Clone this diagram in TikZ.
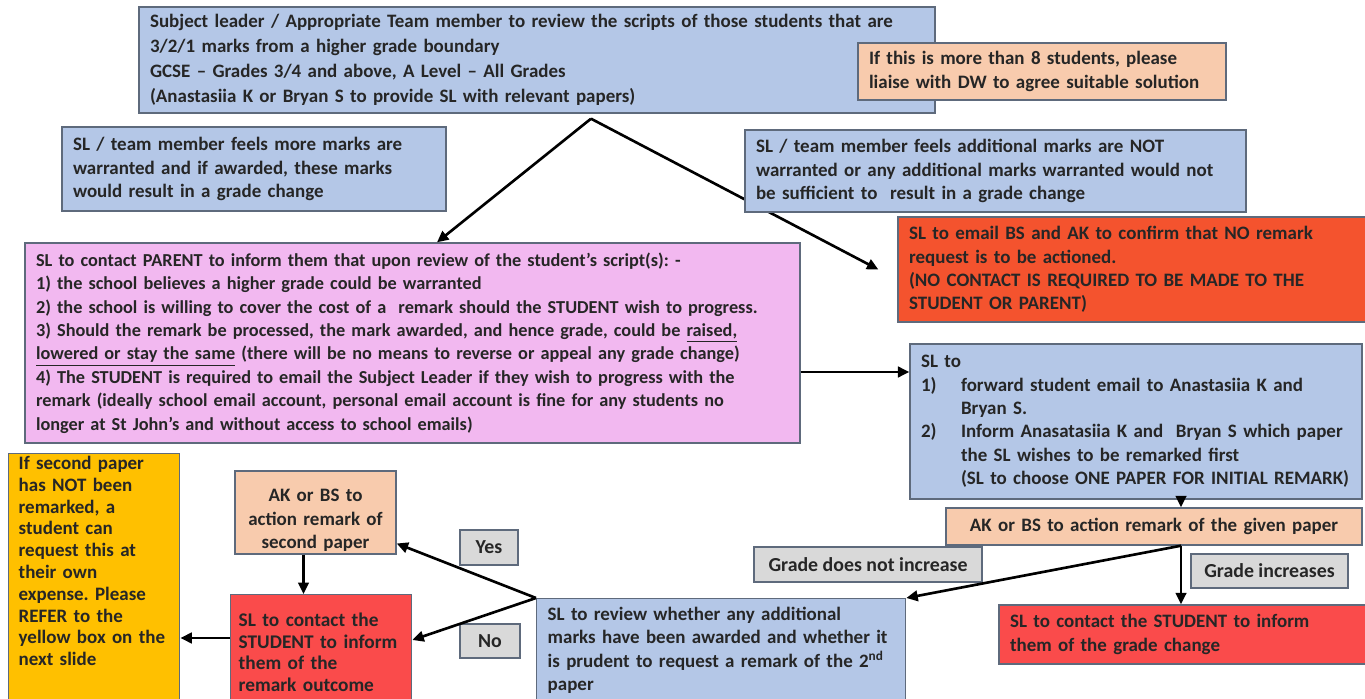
\documentclass[tikz,border=0pt]{standalone}
\usepackage{fontspec}
\setmainfont{Carlito}
\frenchspacing
\usetikzlibrary{arrows.meta}
\definecolor{boxblue}{HTML}{B4C7E7}
\definecolor{boxpeach}{HTML}{F8CBAD}
\definecolor{boxpink}{HTML}{F2B8F0}
\definecolor{boxorange}{HTML}{F4532E}
\definecolor{boxred}{HTML}{FA4B4B}
\definecolor{boxyellow}{HTML}{FFC000}
\definecolor{boxgrey}{HTML}{D9D9D9}
\definecolor{boxline}{HTML}{5E6A7C}
\definecolor{inktext}{HTML}{262626}
\begin{document}
\begin{tikzpicture}[x=0.02cm,y=-0.02cm,
                    every node/.style={font=\bfseries\fontsize{10.8}{13.3}\selectfont,text=inktext},
                    plain box/.style={draw=boxline,line width=0.8pt,inner xsep=0.22cm,inner ysep=0pt,align=left},
                    blue box/.style={plain box,fill=boxblue},
                    peach box/.style={plain box,fill=boxpeach},
                    pink box/.style={plain box,fill=boxpink},
                    orange box/.style={plain box,fill=boxorange},
                    red box/.style={plain box,fill=boxred},
                    yellow box/.style={plain box,fill=boxyellow},
                    tag/.style={plain box,fill=boxgrey,align=center,inner xsep=0pt,
                                font=\bfseries\fontsize{11.3}{13.3}\selectfont},
                    cut box/.style={anchor=north west,text depth=6cm},
                    flow/.style={line width=1.5pt,-{Triangle[length=6.5pt,width=6pt]}}
                   ]
  \path[use as bounding box,clip] (0,0) rectangle (1365,699);

  \node[blue box,text width=15.48cm,minimum height=2.12cm,
        font=\bfseries\fontsize{10.8}{14.2}\selectfont] (review) at (537,60)
    {Subject leader / Appropriate Team member to review the scripts of those students that are\\
     3/2/1 marks from a higher grade boundary\\
     GCSE -- Grades 3/4 and above, A Level -- All Grades\\
     (Anastasiia K or Bryan S to provide SL with relevant papers)};
  \node[peach box,text width=6.92cm,minimum height=1.14cm] (limit) at (1042,71.5)
    {If this is more than 8 students, please\\ liaise with DW to agree suitable solution};
  \node[blue box,text width=7.24cm,minimum height=1.68cm] (more) at (254,169)
    {SL / team member feels more marks are\\ warranted and if awarded, these marks\\ would result in a grade change};
  \node[pink box,text width=15.06cm,minimum height=4cm,
        font=\bfseries\fontsize{10.4}{13.3}\selectfont] (parent) at (412.5,343)
    {SL to contact PARENT to inform them that upon review of the student’s script(s): -\\
     1) the school believes a higher grade could be warranted\\
     2) the school is willing to cover the cost of a~ remark should the STUDENT wish to progress.\\
     3) Should the remark be processed, the mark awarded, and hence grade, could be \underline{raised,}\\
     \underline{lowered or stay the same} (there will be no means to reverse or appeal any grade change)\\
     4) The STUDENT is required to email the Subject Leader if they wish to progress with the\\
     remark (ideally school email account, personal email account is fine for any students no\\
     longer at St John’s and without access to school emails)};
  \node[orange box,text width=9.04cm,minimum height=2.1cm] (noremark) at (1135,269.5)
    {SL to email BS and AK to confirm that NO remark\\ request is to be actioned.\\
     (NO CONTACT IS REQUIRED TO BE MADE TO THE\\ STUDENT OR PARENT)};
  \node[blue box,text width=8.6cm,minimum height=3.1cm] (forward) at (1136,421.5)
    {SL to\\
     \makebox[0.8cm][l]{1)}forward student email to Anastasiia K and\\
     \hspace*{0.8cm}Bryan S.\\
     \makebox[0.8cm][l]{2)}Inform Anasatasiia K and~ Bryan S which paper\\
     \hspace*{0.8cm}the SL wishes to be remarked first\\
     \hspace*{0.8cm}(SL to choose ONE PAPER FOR INITIAL REMARK)};
  \node[peach box,align=center,text width=7.88cm,minimum height=0.74cm] (action) at (1154,526.5)
    {AK or BS to action remark of the given paper};
  \node[tag,minimum width=4.56cm,minimum height=0.7cm] (same) at (868,564.5) {Grade does not increase};
  \node[tag,minimum width=3.14cm,minimum height=0.68cm] (up) at (1269.5,571) {Grade increases};
  \node[red box,text width=7.02cm,minimum height=1.18cm] (tellgrade) at (1185.5,634.5)
    {SL to contact the STUDENT to inform\\ them of the grade change};
  \node[blue box,cut box,inner ysep=0.17cm,text width=6.94cm] (recheck) at (536,598)
    {SL to review whether any additional\\ marks have been awarded and whether it\\
     is prudent to request a remark of the 2\textsuperscript{nd}\\ paper};
  \node[tag,minimum width=1.16cm,minimum height=0.7cm] (yes) at (489,547.5) {Yes};
  \node[tag,minimum width=1.2cm,minimum height=0.68cm] (no) at (490,641) {No};
  \node[peach box,align=center,inner xsep=0.1cm,text width=3.02cm,text height=0.57cm,
        minimum height=1.66cm] (second) at (315.5,512.5)
    {AK or BS to\\ action remark of\\ second paper};
  \node[red box,cut box,inner ysep=0.36cm,inner xsep=0.16cm,text width=3.3cm,
        font=\bfseries\fontsize{11}{12.4}\selectfont] (tellout) at (230,594)
    {SL to contact the\\ STUDENT to inform\\ them of the\\ remark outcome};
  \node[yellow box,cut box,inner ysep=0.05cm,inner xsep=0.2cm,text width=3.02cm,
        font=\bfseries\fontsize{10.8}{12.4}\selectfont] (refer) at (8,453)
    {If second paper\\ has NOT been\\ remarked, a\\ student can\\ request this at\\ their own\\
     expense. Please\\ REFER to the\\ yellow box on the\\ next slide};

  \coordinate (fork) at ([xshift=1.08cm,yshift=-0.1cm]review.south);
  \coordinate (split) at ([xshift=0.54cm]action.south);
  \path%
    (fork) edge[flow] ([xshift=0.49cm]parent.north)
    (fork) edge[flow] ([xshift=-0.38cm]noremark.west)
    ([yshift=-0.58cm]parent.east) edge[flow] ([yshift=-0.58cm]parent.east -| forward.west)
    (forward.south -| split) edge[flow] (action.north -| split)
    (split) edge[flow] (tellgrade.north -| split)
    (split) edge[flow] (recheck.north east)
    (recheck.north west) edge[flow] ([yshift=-0.62cm]second.east)  % yes branch
    (recheck.north west) edge[flow] ([yshift=-0.92cm]tellout.north east)  % no branch
    ([xshift=-0.24cm]second.south) edge[flow] ([xshift=-0.24cm]second.south |- tellout.north)
    ([yshift=-0.88cm]tellout.north west) edge[flow] ([yshift=-0.88cm]tellout.north west -| refer.east);

  % drawn last, it hides the connector behind it
  \node[blue box,text width=9.58cm,minimum height=1.64cm] (enough) at (995.5,171)
    {SL / team member feels additional marks are NOT\\ warranted or any additional marks warranted would not\\
     be sufficient to~ result in a grade change};
\end{tikzpicture}
\end{document}
